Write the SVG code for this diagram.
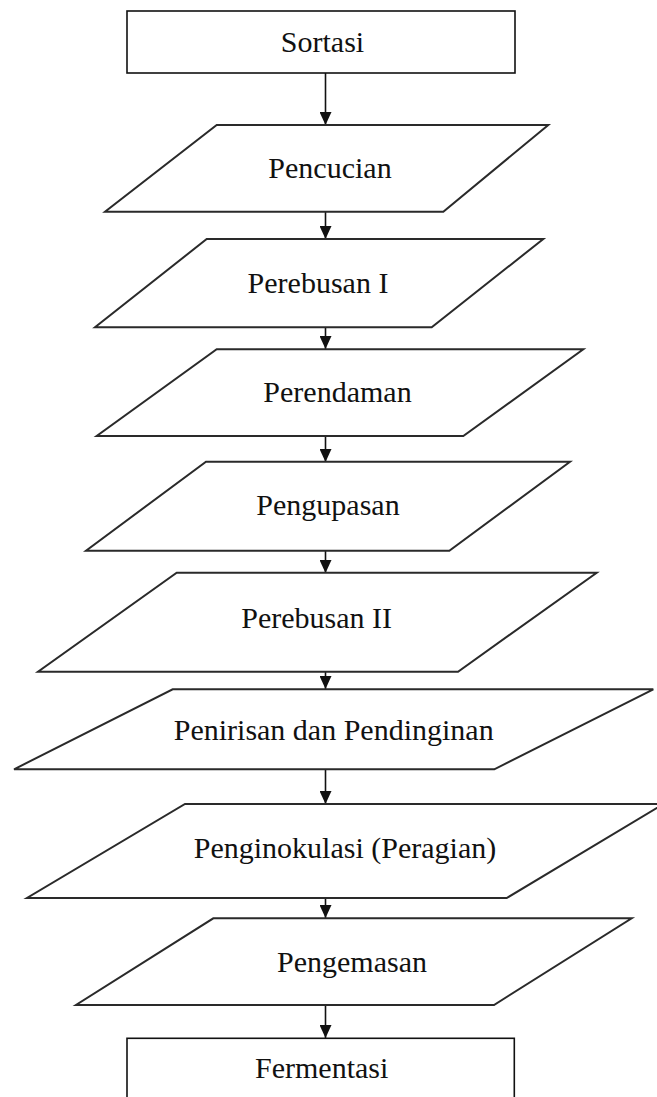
<svg xmlns="http://www.w3.org/2000/svg" width="657" height="1097" viewBox="0 0 657 1097">
  <style>
    .box { fill: #ffffff; stroke: #111111; stroke-width: 1.6; }
    .io { fill: #ffffff; stroke: #2a2a2a; stroke-width: 2; stroke-linejoin: miter; }
    .lbl { font-family: "Liberation Serif", "Times New Roman", "DejaVu Serif", serif; font-size: 30px; fill: #111111; text-anchor: middle; }
    .flow { stroke: #111111; stroke-width: 1.6; fill: none; marker-end: url(#head); }
  </style>
  <defs>
    <!-- arrowhead drawn along +x so orient="auto" turns it to the line direction -->
    <marker id="head" viewBox="0 0 13 12" refX="13" refY="6" markerWidth="13" markerHeight="12" markerUnits="userSpaceOnUse" orient="auto">
      <path d="M0,0 L13,6 L0,12 Z" fill="#111111"/>
    </marker>
  </defs>
  <rect width="657" height="1097" fill="#ffffff"/>

  <!-- connectors -->
  <g id="connectors">
    <line class="flow" x1="325.5" y1="73" x2="325.5" y2="125"/>
    <line class="flow" x1="325.5" y1="212" x2="325.5" y2="239"/>
    <line class="flow" x1="325.5" y1="327" x2="325.5" y2="349"/>
    <line class="flow" x1="325.5" y1="436" x2="325.5" y2="462"/>
    <line class="flow" x1="325.5" y1="551" x2="325.5" y2="573"/>
    <line class="flow" x1="325.5" y1="672" x2="325.5" y2="689"/>
    <line class="flow" x1="325.5" y1="769" x2="325.5" y2="804"/>
    <line class="flow" x1="325.5" y1="898" x2="325.5" y2="918"/>
    <line class="flow" x1="325.5" y1="1005" x2="325.5" y2="1038"/>
  </g>

  <!-- process steps -->
  <g id="sortasi">
    <rect class="box" x="127" y="11" width="388" height="62"/>
    <text class="lbl" x="322.5" y="52">Sortasi</text>
  </g>
  <g id="pencucian">
    <polygon class="io" points="216.7,125 548.3,125 443.3,211.7 105,211.7"/>
    <text class="lbl" x="330" y="178.3">Pencucian</text>
  </g>
  <g id="perebusan-1">
    <polygon class="io" points="206.7,239 543.3,239 431.7,327.3 95,327.3"/>
    <text class="lbl" x="318" y="292.7">Perebusan I</text>
  </g>
  <g id="perendaman">
    <polygon class="io" points="216.7,349.3 583.3,349.3 463.3,436 96.7,436"/>
    <text class="lbl" x="337.5" y="402.3">Perendaman</text>
  </g>
  <g id="pengupasan">
    <polygon class="io" points="206,461.7 570,461.7 449.3,550.7 86,550.7"/>
    <text class="lbl" x="328" y="514.5">Pengupasan</text>
  </g>
  <g id="perebusan-2">
    <polygon class="io" points="176.7,572.7 596.7,572.7 458,671.7 38,671.7"/>
    <text class="lbl" x="316.7" y="628.3">Perebusan II</text>
  </g>
  <g id="penirisan">
    <polygon class="io" points="172.7,689.3 653.3,689.3 494.3,769.3 14,769.3"/>
    <text class="lbl" x="333.7" y="740">Penirisan dan Pendinginan</text>
  </g>
  <g id="penginokulasi">
    <polygon class="io" points="185,804 663.5,804 506.7,898 27,898"/>
    <text class="lbl" x="345" y="858.3">Penginokulasi (Peragian)</text>
  </g>
  <g id="pengemasan">
    <polygon class="io" points="213.3,918.3 631.7,918.3 494,1005 76,1005"/>
    <text class="lbl" x="352" y="971.7">Pengemasan</text>
  </g>
  <g id="fermentasi">
    <rect class="box" x="127" y="1038.3" width="387.3" height="80"/>
    <text class="lbl" x="321.7" y="1078.3">Fermentasi</text>
  </g>
</svg>
